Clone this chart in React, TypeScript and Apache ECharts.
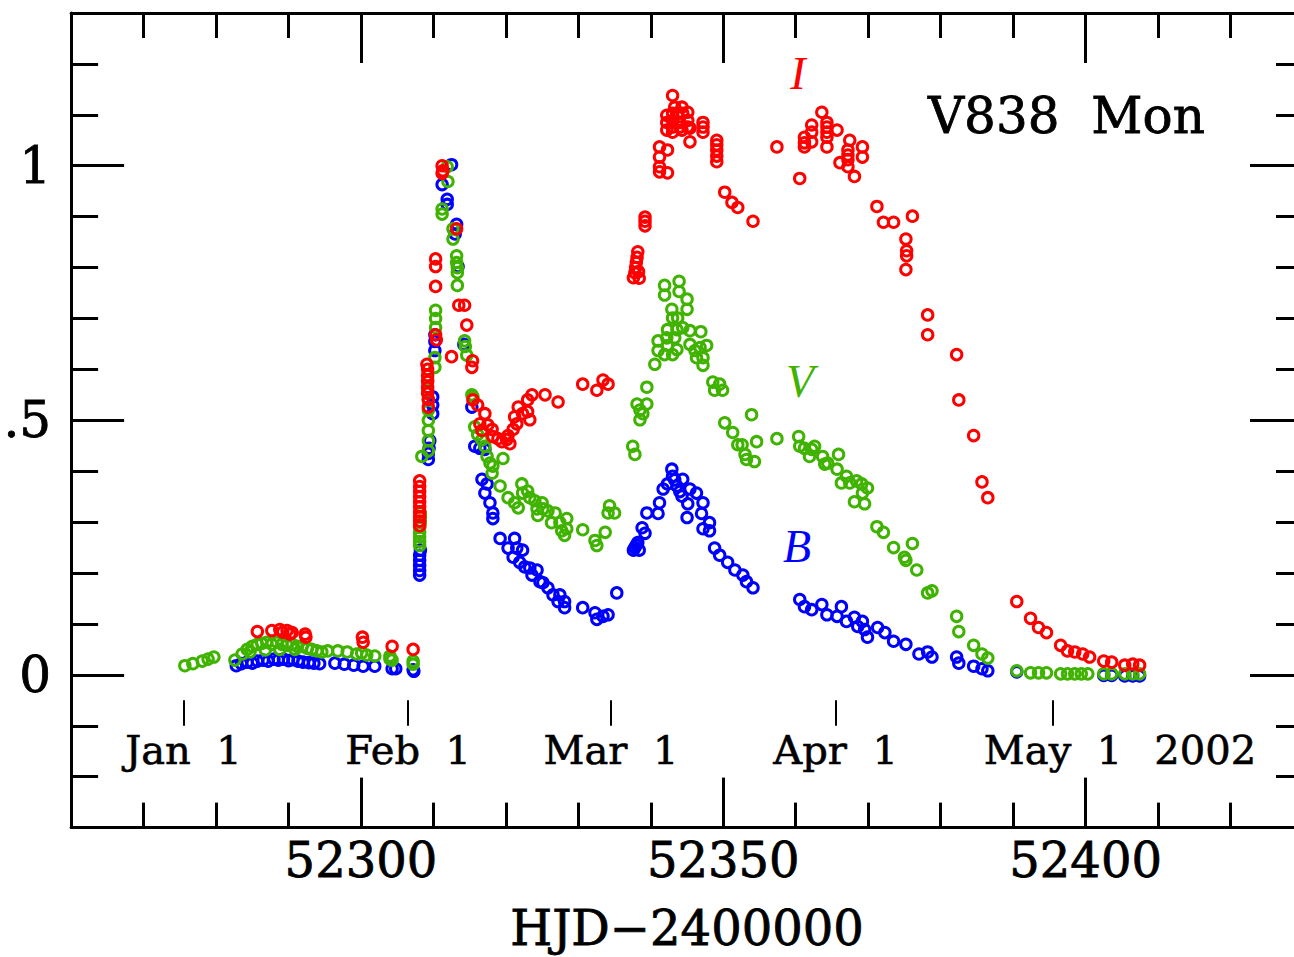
import React, { useEffect, useRef } from "react";
import * as echarts from "echarts";

// HJD-2400000, relative flux (I band, red)
const iBand: number[][] = [
  [52285.7,0.085],[52287.7,0.087],[52288.8,0.089],[52289.2,0.084],[52289.8,0.087],[52290.2,0.080],[52290.5,0.083],[52292.3,0.080],[52292.4,0.074],[52300.2,0.074],[52300.3,0.064],[52304.3,0.056],[52307.2,0.050],
  [52308.1,0.293],[52308.1,0.302],[52308.1,0.311],[52308.1,0.320],[52308.1,0.330],[52308.1,0.340],[52308.1,0.350],[52308.1,0.360],[52308.1,0.370],[52308.1,0.381],
  [52309.1,0.610],[52309.2,0.600],[52309.2,0.588],[52309.2,0.576],[52309.2,0.565],[52309.2,0.553],[52309.3,0.541],[52309.3,0.526],
  [52310.3,0.817],[52310.3,0.802],[52310.3,0.763],[52310.3,0.668],[52310.4,0.658],
  [52311.2,1.000],[52311.3,0.990],[52311.2,0.985],
  [52312.5,0.625],[52313.2,0.876],[52313.5,0.726],[52314.3,0.726],[52314.6,0.687],[52315.4,0.617],[52315.3,0.604],
  [52315.45,0.540],[52316.1,0.530],[52316.4,0.493],[52317.1,0.513],[52316.7,0.480],[52317.5,0.491],[52318.1,0.482],[52318.2,0.468],[52318.9,0.464],[52319.45,0.458],[52320.1,0.462],[52320.55,0.454],[52320.3,0.470],[52321.0,0.482],[52321.5,0.493],[52321.2,0.507],[52322.3,0.513],[52321.7,0.526],[52323.0,0.517],[52323.3,0.501],[52323.0,0.540],[52323.6,0.550],[52325.4,0.550],[52327.2,0.536],[52330.6,0.571],[52332.55,0.559],[52333.4,0.579],[52334.1,0.571],
  [52337.6,0.780],[52337.8,0.790],[52337.9,0.800],[52338.0,0.810],[52338.1,0.820],[52338.2,0.831],[52338.3,0.792],[52338.4,0.779],
  [52339.2,0.899],[52339.2,0.891],[52339.2,0.882],
  [52341.2,1.037],[52341.2,1.017],[52341.2,0.998],[52341.2,0.988],[52342.3,1.031],[52342.3,0.986],[52342.2,1.099],[52342.2,1.085],[52342.2,1.070],
  [52343.0,1.138],[52343.3,1.115],[52344.3,1.115],[52343.0,1.103],[52343.7,1.103],[52344.4,1.103],[52345.1,1.105],[52343.0,1.089],[52344.0,1.085],[52345.1,1.089],[52343.0,1.076],[52344.0,1.076],[52345.1,1.076],[52343.0,1.066],[52344.3,1.070],[52345.4,1.074],[52345.4,1.047],
  [52347.2,1.085],[52347.2,1.076],[52347.2,1.066],
  [52349.1,1.050],[52349.1,1.041],[52349.1,1.031],[52349.1,1.019],[52349.1,1.008],
  [52350.2,0.948],[52351.2,0.928],[52352.0,0.918],[52354.1,0.891],
  [52357.4,1.037],[52360.55,0.975],[52361.2,1.056],[52361.2,1.045],[52361.2,1.037],[52362.2,1.080],[52362.2,1.066],[52362.2,1.047],[52363.6,1.105],[52364.3,1.085],[52364.3,1.076],[52364.3,1.066],[52364.3,1.056],[52364.3,1.037],[52365.7,1.070],[52366.1,1.006],[52367.2,1.031],[52367.2,1.021],[52367.2,1.012],[52367.2,0.998],[52367.45,1.050],[52368.1,0.979],[52369.2,1.037],[52369.2,1.017],
  [52371.2,0.920],[52372.1,0.889],[52373.5,0.889],[52375.2,0.856],[52375.3,0.833],[52375.3,0.823],[52375.2,0.796],[52376.1,0.901],
  [52378.2,0.707],[52378.2,0.668],[52382.2,0.629],[52382.5,0.540],[52384.55,0.470],[52385.7,0.379],[52386.5,0.348],
  [52390.5,0.144],[52392.4,0.111],[52393.5,0.093],[52394.6,0.083],[52396.55,0.058],[52397.5,0.047],[52398.5,0.045],[52399.6,0.041],[52400.55,0.035],[52402.5,0.027],[52403.6,0.025],[52405.4,0.019],[52406.5,0.021],[52407.45,0.019]
];

// V band (green)
const vBand: number[][] = [
  [52275.7,0.018],[52276.8,0.022],[52278.1,0.027],[52278.9,0.031],[52279.7,0.035],
  [52282.6,0.029],[52283.6,0.041],[52284.3,0.050],[52284.7,0.045],[52285.0,0.056],[52285.7,0.060],[52286.3,0.062],[52286.8,0.049],[52287.0,0.064],[52287.7,0.060],[52288.4,0.064],[52288.8,0.050],[52289.1,0.060],[52289.8,0.058],[52290.5,0.060],[52290.9,0.050],[52291.2,0.056],[52291.9,0.056],[52292.6,0.052],[52293.2,0.050],[52293.9,0.047],[52294.6,0.045],[52295.4,0.047],[52296.8,0.047],[52298.1,0.045],[52299.4,0.041],[52300.1,0.043],[52300.8,0.039],[52301.9,0.037],[52304.0,0.037],[52304.0,0.031],[52304.3,0.029],[52307.2,0.027],[52307.2,0.021],
  [52308.1,0.254],[52308.1,0.262],[52308.1,0.271],[52308.1,0.280],[52308.1,0.290],[52308.2,0.300],[52308.2,0.310],[52308.2,0.318],
  [52308.4,0.429],[52309.2,0.580],[52309.2,0.560],[52309.3,0.540],[52309.3,0.520],[52309.3,0.500],[52309.3,0.480],[52309.3,0.460],[52309.3,0.440],
  [52310.2,0.623],[52310.2,0.604],[52310.3,0.716],[52310.3,0.700],[52310.3,0.682],
  [52311.9,0.998],[52312.0,0.969],[52311.2,0.915],[52311.2,0.905],[52312.7,0.876],[52312.7,0.856],[52313.2,0.823],[52313.2,0.810],[52313.3,0.800],[52313.3,0.790],[52313.3,0.765],[52314.3,0.656],[52314.4,0.645],[52314.6,0.628],[52315.3,0.550],
  [52315.45,0.546],[52315.7,0.487],[52316.1,0.472],[52316.7,0.462],[52317.1,0.449],[52317.4,0.429],[52317.8,0.416],[52318.2,0.410],[52319.6,0.425],[52318.1,0.396],[52319.2,0.371],[52320.3,0.348],[52321.2,0.338],[52322.2,0.375],[52322.3,0.357],[52321.7,0.328],[52323.0,0.361],[52323.3,0.348],[52324.0,0.342],[52325.0,0.338],[52324.3,0.326],[52325.1,0.326],[52324.4,0.313],[52325.8,0.322],[52326.8,0.318],[52326.3,0.299],[52327.45,0.299],[52328.4,0.307],[52327.7,0.283],[52328.4,0.287],[52328.1,0.274],[52330.6,0.285],[52332.3,0.264],[52332.55,0.254],[52333.7,0.280],[52334.3,0.332],[52335.0,0.318],[52334.1,0.318],
  [52337.5,0.449],[52337.8,0.433],[52338.1,0.532],[52338.5,0.520],[52338.5,0.501],[52338.9,0.513],[52339.45,0.532],[52339.45,0.565],[52340.55,0.610],[52341.0,0.656],[52341.0,0.637],[52341.9,0.629],[52341.9,0.765],[52341.9,0.746],[52342.2,0.662],[52342.3,0.678],[52342.3,0.647],[52342.9,0.718],[52343.0,0.701],[52343.0,0.629],[52343.3,0.662],[52343.6,0.678],[52343.6,0.639],[52343.7,0.701],[52343.9,0.773],[52343.9,0.753],[52344.4,0.682],[52345.0,0.738],[52345.0,0.718],[52345.4,0.676],[52345.4,0.649],[52346.1,0.637],[52346.3,0.623],[52346.8,0.643],[52346.9,0.674],[52347.2,0.623],[52347.2,0.608],[52347.7,0.647],[52348.55,0.575],[52348.8,0.559],[52349.5,0.571],[52349.9,0.559],
  [52350.2,0.495],[52351.3,0.476],[52352.0,0.452],[52352.6,0.452],[52353.0,0.433],[52353.2,0.423],[52353.9,0.511],[52354.3,0.419],[52354.6,0.458],
  [52357.4,0.464],[52360.4,0.468],[52360.55,0.449],[52361.2,0.445],[52361.9,0.429],[52362.2,0.443],[52362.6,0.449],[52363.7,0.429],[52364.0,0.414],[52364.4,0.416],[52365.7,0.404],[52365.9,0.433],[52366.3,0.377],[52367.0,0.390],[52367.45,0.377],[52368.1,0.340],[52368.4,0.381],[52369.1,0.375],[52369.2,0.357],[52369.5,0.336],[52369.9,0.367],
  [52371.2,0.291],[52372.1,0.280],[52373.5,0.250],[52375.0,0.231],[52375.2,0.225],[52376.1,0.258],[52376.7,0.206],[52378.2,0.161],[52378.8,0.165],[52382.2,0.115],[52382.5,0.085],[52384.55,0.058],[52385.7,0.041],[52386.5,0.033],
  [52390.5,0.008],[52392.4,0.004],[52393.5,0.004],[52394.6,0.004],[52396.55,0.002],[52397.5,0.002],[52398.5,0.002],[52399.4,0.002],[52400.3,0.002],[52402.5,0.002],[52403.6,0.002],[52405.4,0.002],[52406.5,0.002],[52407.45,0.002]
];

// B band (blue)
const bBand: number[][] = [
  [52282.8,0.018],[52283.5,0.022],[52284.3,0.025],[52285.0,0.023],[52285.7,0.027],[52286.5,0.029],[52287.2,0.027],[52288.0,0.031],[52288.6,0.029],[52289.3,0.031],[52290.0,0.028],[52290.6,0.030],[52291.3,0.027],[52292.0,0.025],[52292.8,0.024],[52293.5,0.023],[52294.3,0.022],[52296.4,0.023],[52297.7,0.021],[52299.0,0.019],[52300.3,0.017],[52301.9,0.017],[52304.3,0.012],[52304.8,0.012],[52307.2,0.010],[52307.3,0.007],
  [52308.1,0.196],[52308.1,0.205],[52308.1,0.215],[52308.1,0.225],[52308.1,0.235],[52308.2,0.245],
  [52309.3,0.423],[52309.3,0.435],[52309.4,0.445],[52309.5,0.460],[52309.9,0.513],[52309.9,0.530],[52309.9,0.546],
  [52310.2,0.668],[52310.2,0.655],[52310.2,0.637],
  [52311.2,0.963],[52311.9,0.934],[52311.9,0.924],[52312.5,1.002],[52313.0,0.866],[52313.2,0.885],[52313.4,0.802],[52314.2,0.649],
  [52315.3,0.526],[52315.7,0.449],[52316.4,0.445],[52317.1,0.443],[52316.7,0.384],[52317.4,0.375],[52317.1,0.357],[52317.8,0.338],[52318.2,0.318],[52318.2,0.307],[52319.2,0.268],[52320.3,0.249],[52321.2,0.268],[52321.5,0.249],[52321.0,0.231],[52322.3,0.245],[52321.9,0.221],[52322.6,0.212],[52323.3,0.210],[52324.3,0.206],[52323.6,0.196],[52324.7,0.183],[52325.1,0.181],[52325.8,0.171],[52326.5,0.157],[52327.45,0.157],[52327.2,0.144],[52328.1,0.144],[52328.1,0.132],[52330.6,0.132],[52332.3,0.122],[52332.55,0.109],[52333.4,0.115],[52334.1,0.118],[52335.3,0.161],
  [52337.6,0.245],[52337.8,0.250],[52338.0,0.255],[52338.2,0.260],[52338.4,0.245],[52338.8,0.289],[52339.2,0.278],[52339.45,0.318],[52341.0,0.317],[52341.2,0.338],[52341.7,0.365],[52342.3,0.375],[52342.9,0.404],[52343.0,0.390],[52343.3,0.383],[52343.6,0.371],[52344.0,0.360],[52344.4,0.384],[52344.3,0.351],[52345.0,0.309],[52345.1,0.336],[52345.4,0.365],[52346.3,0.357],[52347.0,0.317],[52347.2,0.338],[52347.2,0.287],[52348.1,0.299],[52348.1,0.283],[52348.8,0.249],[52349.5,0.235],[52350.6,0.221],[52351.6,0.206],[52352.7,0.196],[52353.2,0.183],[52354.1,0.171],
  [52360.55,0.148],[52361.2,0.134],[52362.2,0.128],[52363.6,0.138],[52364.3,0.118],[52365.7,0.115],[52366.3,0.134],[52367.0,0.105],[52368.1,0.113],[52368.55,0.095],[52369.2,0.105],[52369.5,0.089],[52369.9,0.074],[52371.3,0.093],[52372.3,0.083],[52373.5,0.066],[52375.2,0.060],[52377.0,0.041],[52378.2,0.045],[52378.8,0.035],[52382.2,0.035],[52382.5,0.023],[52384.55,0.017],[52385.7,0.012],[52386.5,0.008],
  [52390.5,0.006],[52402.5,-0.001],[52403.6,-0.001],[52405.4,-0.002],[52406.5,-0.002],[52407.45,-0.002]
];

const xMajorTicks = [52300, 52350, 52400];
const yMajorTicks = [0, 0.5, 1];
const yTickLabels = ["0", ".5", "1"];
const monthNames = ["Jan\u00a0\u00a01", "Feb\u00a0\u00a01", "Mar\u00a0\u00a01", "Apr\u00a0\u00a01", "May\u00a0\u00a01"];
const monthHJD = [52275.5, 52306.5, 52334.5, 52365.5, 52395.5];
const yearLabel = "2002";
const yearHJD = 52416.5;
const starName = "V838\u00a0\u00a0Mon";
const bandNames = ["I", "V", "B"];
const xTitle = "HJD\u22122400000";

const RED = "#ff0000";
const GREEN = "#3fb300";
const BLUE = "#0000ff";
const FONT = "'DejaVu Serif', serif";
const IFONT = "'Liberation Serif', serif";

export default function App() {
  const ref = useRef<HTMLDivElement>(null);
  useEffect(() => {
    const chart = echarts.init(ref.current!, null, { renderer: "svg" });
    const X0 = 52260, X1 = 52430, Y0 = -0.3, Y1 = 1.3;
    const boxLine = { show: true, onZero: false, lineStyle: { color: "#000", width: 3 } };
    const noLine = { show: false, onZero: false };
    const tickStyle = { color: "#000", width: 3 };
    const thick = { textBorderColor: "#000", textBorderWidth: 0.8 };
    const xBase: any = { type: "value", min: X0, max: X1, splitLine: { show: false } };
    const yBase: any = { type: "value", min: Y0, max: Y1, splitLine: { show: false } };
    const scatter = (data: number[][], color: string) => ({
      type: "scatter",
      data,
      symbol: "circle",
      symbolSize: 10.5,
      itemStyle: { color: "rgba(0,0,0,0)", borderColor: color, borderWidth: 3, opacity: 1 },
      emphasis: { disabled: true },
      silent: true,
    });
    const labelData = monthHJD
      .map((x, i) => ({ name: monthNames[i], value: [x, -0.147] }))
      .concat([{ name: yearLabel, value: [yearHJD, -0.147] }]);
    const option: any = {
      animation: false,
      backgroundColor: "#fff",
      grid: { left: 70, top: 13, width: 1233, height: 821, containLabel: false },
      xAxis: [
        {
          ...xBase, position: "bottom", axisLine: boxLine,
          axisTick: { show: true, inside: true, length: 50, lineStyle: tickStyle, customValues: xMajorTicks },
          axisLabel: { show: true, customValues: xMajorTicks, formatter: (v: number) => String(v), fontSize: 48, fontFamily: FONT, color: "#000", margin: 8, ...thick },
          name: xTitle, nameLocation: "middle", nameGap: 76,
          nameTextStyle: { fontSize: 48, fontFamily: FONT, color: "#000", ...thick },
        },
        {
          ...xBase, position: "bottom", interval: 10, axisLine: noLine,
          axisTick: { show: true, inside: true, length: 25, lineStyle: tickStyle },
          axisLabel: { show: false },
        },
        {
          ...xBase, position: "top", axisLine: boxLine,
          axisTick: { show: true, inside: true, length: 50, lineStyle: tickStyle, customValues: xMajorTicks },
          axisLabel: { show: false },
        },
        {
          ...xBase, position: "top", interval: 10, axisLine: noLine,
          axisTick: { show: true, inside: true, length: 25, lineStyle: tickStyle },
          axisLabel: { show: false },
        },
      ],
      yAxis: [
        {
          ...yBase, position: "left", axisLine: boxLine,
          axisTick: { show: true, inside: true, length: 53, lineStyle: tickStyle, customValues: yMajorTicks },
          axisLabel: {
            show: true, customValues: yMajorTicks,
            formatter: (v: number) => yTickLabels[yMajorTicks.findIndex((t) => Math.abs(t - v) < 1e-6)] ?? "",
            fontSize: 50, fontFamily: FONT, color: "#000", margin: 20, ...thick,
          },
        },
        {
          ...yBase, position: "left", interval: 0.1, axisLine: noLine,
          axisTick: { show: true, inside: true, length: 27, lineStyle: tickStyle },
          axisLabel: { show: false },
        },
        {
          ...yBase, position: "right", axisLine: boxLine,
          axisTick: { show: true, inside: true, length: 53, lineStyle: tickStyle, customValues: yMajorTicks },
          axisLabel: { show: false },
        },
        {
          ...yBase, position: "right", interval: 0.1, axisLine: noLine,
          axisTick: { show: true, inside: true, length: 27, lineStyle: tickStyle },
          axisLabel: { show: false },
        },
      ],
      series: [
        scatter(bBand, BLUE),
        scatter(vBand, GREEN),
        scatter(iBand, RED),
        {
          type: "scatter",
          data: labelData,
          symbolSize: 1,
          itemStyle: { color: "rgba(0,0,0,0)", opacity: 1 },
          silent: true,
          label: { show: true, position: "inside", formatter: "{b}", fontSize: 40, fontFamily: FONT, color: "#000", opacity: 1, ...thick, textBorderWidth: 0.6 },
          markLine: {
            silent: true,
            symbol: ["none", "none"],
            label: { show: false },
            lineStyle: { color: "#000", width: 2, type: "solid", opacity: 1 },
            data: monthHJD.map((x) => [{ coord: [x, -0.05] }, { coord: [x, -0.1] }]),
          },
        },
      ],
      graphic: [
        { type: "text", x: 928, y: 116, style: { text: starName, fontSize: 50, fontFamily: FONT, fill: "#000", stroke: "#000", lineWidth: 0.8, align: "left", verticalAlign: "middle", textAlign: "left", textVerticalAlign: "middle" } },
        { type: "text", x: 798, y: 73, style: { text: bandNames[0], fontSize: 46, fontFamily: IFONT, fontStyle: "italic", fill: RED, align: "center", verticalAlign: "middle", textAlign: "center", textVerticalAlign: "middle" } },
        { type: "text", x: 800, y: 381, style: { text: bandNames[1], fontSize: 46, fontFamily: IFONT, fontStyle: "italic", fill: GREEN, align: "center", verticalAlign: "middle", textAlign: "center", textVerticalAlign: "middle" } },
        { type: "text", x: 797, y: 546, style: { text: bandNames[2], fontSize: 46, fontFamily: IFONT, fontStyle: "italic", fill: BLUE, align: "center", verticalAlign: "middle", textAlign: "center", textVerticalAlign: "middle" } },
      ],
    };
    chart.setOption(option);
    return () => chart.dispose();
  }, []);
  return <div ref={ref} style={{ position: "fixed", left: 0, top: 0, width: 1312, height: 957 }} />;
}
